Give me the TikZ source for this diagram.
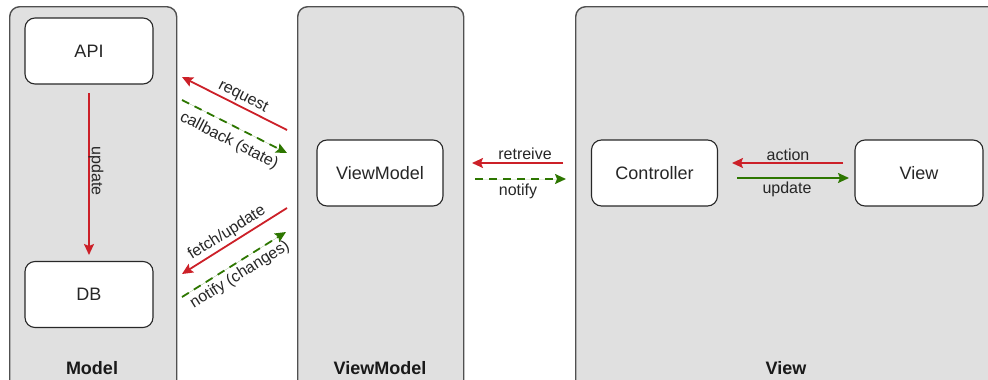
\documentclass[tikz,border=0pt]{standalone}
\usepackage{fontspec}
\setmainfont{Liberation Sans}
\usetikzlibrary{arrows.meta}
\definecolor{panelfill}{RGB}{224,224,224}
\definecolor{panelline}{RGB}{80,80,80}
\definecolor{boxline}{RGB}{40,40,40}
\definecolor{arred}{RGB}{204,32,40}
\definecolor{argreen}{RGB}{45,118,0}
\tikzset{
  panel/.style={draw=panelline, fill=panelfill, line width=1.4pt, rounded corners=10pt, inner sep=0pt},
  box/.style={draw=boxline, fill=white, line width=1.1pt, rounded corners=10pt, minimum width=128pt, minimum height=66pt, font=\fontsize{18}{20}\selectfont, text=black!85},
  ptitle/.style={font=\bfseries\fontsize{18}{20}\selectfont, text=black!90},
  lbl/.style={font=\fontsize{16}{18}\selectfont, text=black!85, inner sep=0pt},
  tip/.style={-{Stealth[length=11pt,width=10pt,inset=2pt]}},
  redarrow/.style={tip, draw=arred, fill=arred, line width=1.8pt},
  greenarrow/.style={tip, draw=argreen, fill=argreen, line width=1.8pt},
  greendash/.style={greenarrow, dash pattern=on 8pt off 6pt},
}
\begin{document}
\begin{tikzpicture}[x=1pt,y=-1pt]
\useasboundingbox (0,0) rectangle (988,380);
\clip (0,0) rectangle (988,380);
% panels
\node[panel, minimum width=167pt, minimum height=420pt, anchor=north west] (model) at (9,6) {};
\node[panel, minimum width=166pt, minimum height=420pt, anchor=north west] (vmp) at (297,6) {};
\node[panel, minimum width=440pt, minimum height=420pt, anchor=north west] (viewp) at (575,6) {};
\node[ptitle] (tmodel) at (92,368) {Model};
\node[ptitle] (tvm) at (380,368) {ViewModel};
\node[ptitle] (tview) at (786,368) {View};
% boxes
\node[box] (api) at (89,51) {API};
\node[box] (db) at (89,294.5) {DB};
\node[box, minimum width=126pt] (vm) at (380,173) {ViewModel};
\node[box, minimum width=126pt] (ctrl) at (654.5,173) {Controller};
\node[box] (view) at (919,173) {View};
% connector end points
\coordinate (a1) at (89,93);
\coordinate (a2) at (89,255);
\coordinate (r1) at (287,130);
\coordinate (r2) at (182,77);
\coordinate (c1) at (182,100);
\coordinate (c2) at (287,153);
\coordinate (f1) at (287,208);
\coordinate (f2) at (182,274);
\coordinate (n1) at (182,297);
\coordinate (n2) at (286,232);
\coordinate (rt1) at (563,163);
\coordinate (rt2) at (472,163);
\coordinate (nt1) at (475,179);
\coordinate (nt2) at (566,179);
\coordinate (ac1) at (843,163);
\coordinate (ac2) at (732,163);
\coordinate (up1) at (737,178);
\coordinate (up2) at (849,178);
% connectors
\draw[redarrow] (a1) -- (a2);
\draw[redarrow] (r1) -- (r2);
\draw[greendash] (c1) -- (c2);
\draw[redarrow] (f1) -- (f2);
\draw[greendash] (n1) -- (n2);
\draw[redarrow] (rt1) -- (rt2);
\draw[greendash] (nt1) -- (nt2);
\draw[redarrow] (ac1) -- (ac2);
\draw[greenarrow] (up1) -- (up2);
% labels
\node[lbl, rotate=-90] (lupd) at (96,171) {update};
\node[lbl, rotate=-27] (lreq) at (243,97) {request};
\node[lbl, rotate=-27] (lcb) at (229,141) {callback (state)};
\node[lbl, rotate=32] (lfu) at (227,233) {fetch/update};
\node[lbl, rotate=32] (lnc) at (240,275) {notify (changes)};
\node[lbl] (lret) at (525,154) {retreive};
\node[lbl] (lnot) at (518,191) {notify};
\node[lbl] (lact) at (788,155) {action};
\node[lbl] (lup) at (787,189) {update};
\end{tikzpicture}
\end{document}
